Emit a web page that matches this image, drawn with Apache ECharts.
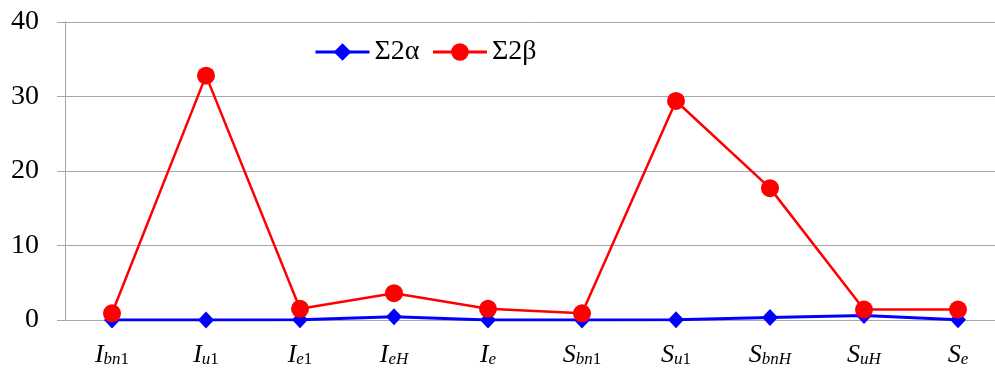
<!DOCTYPE html>
<html>
<head>
<meta charset="utf-8">
<script src="https://cdn.jsdelivr.net/npm/echarts@6/dist/echarts.min.js"></script>
<style>
  html, body { margin: 0; padding: 0; background: #fff; }
  #chart { width: 995px; height: 369px; }
</style>
</head>
<body>
<div id="chart"></div>
<script>
// Category keys: [main letter, italic subscript, upright subscript]
const categories = [
  ['I', 'bn', '1'], ['I', 'u', '1'], ['I', 'e', '1'], ['I', 'eH', ''], ['I', 'e', ''],
  ['S', 'bn', '1'], ['S', 'u', '1'], ['S', 'bnH', ''], ['S', 'uH', ''], ['S', 'e', '']
];
const seriesAlphaName = 'Σ2α';
const seriesBetaName = 'Σ2β';
const alphaValues = [0.0, 0.0, 0.05, 0.45, 0.0, 0.0, 0.05, 0.35, 0.6, 0.05];
const betaValues = [0.9, 32.8, 1.5, 3.6, 1.5, 0.9, 29.4, 17.7, 1.4, 1.4];
const yTicks = [0, 10, 20, 30, 40];

const labelKeys = categories.map(c => c.join('|'));
const serif = '"Liberation Serif", "DejaVu Serif", serif';

const chart = echarts.init(document.getElementById('chart'), null, { renderer: 'canvas' });
chart.setOption({
  animation: false,
  backgroundColor: '#ffffff',
  // plot area runs past the right edge of the canvas
  grid: { left: 65, top: 22, width: 940, height: 298, containLabel: false, outerBoundsMode: 'none' },
  legend: {
    left: 309, top: 33,
    itemWidth: 54, itemHeight: 22, itemGap: 12,
    lineStyle: { width: 3 },
    textStyle: { fontFamily: serif, fontSize: 28, color: '#000' },
    data: [seriesAlphaName, seriesBetaName]
  },
  xAxis: {
    type: 'category',
    data: labelKeys,
    boundaryGap: true,
    axisLine: { lineStyle: { color: '#a6a6a6', width: 1 } },
    axisTick: { show: false },
    axisLabel: {
      margin: 18,
      interval: 0,
      formatter: function (v) {
        const p = v.split('|');
        let s = '{m|' + p[0] + '}{s|' + p[1] + '}';
        if (p[2]) s += '{n|' + p[2] + '}';
        return s;
      },
      rich: {
        m: { fontFamily: serif, fontStyle: 'italic', fontSize: 26, color: '#000', lineHeight: 30, verticalAlign: 'bottom' },
        s: { fontFamily: serif, fontStyle: 'italic', fontSize: 17, color: '#000', lineHeight: 17, verticalAlign: 'bottom' },
        n: { fontFamily: serif, fontSize: 17, color: '#000', lineHeight: 17, verticalAlign: 'bottom' }
      }
    }
  },
  yAxis: {
    type: 'value',
    min: yTicks[0], max: yTicks[yTicks.length - 1], interval: 10,
    axisLine: { show: true, lineStyle: { color: '#a6a6a6', width: 1 } },
    axisTick: { show: true, inside: false, length: 8, lineStyle: { color: '#a6a6a6' } },
    splitLine: { lineStyle: { color: '#a6a6a6', width: 1 } },
    axisLabel: { margin: 26, fontFamily: serif, fontSize: 28, color: '#000' }
  },
  series: [
    {
      name: seriesAlphaName,
      type: 'line',
      data: alphaValues,
      symbol: 'diamond',
      symbolSize: [16, 17],
      lineStyle: { color: '#0000ff', width: 3 },
      itemStyle: { color: '#0000ff' },
      z: 2
    },
    {
      name: seriesBetaName,
      type: 'line',
      data: betaValues,
      symbol: 'circle',
      symbolSize: 18,
      lineStyle: { color: '#ff0000', width: 2.5 },
      itemStyle: { color: '#ff0000' },
      z: 3
    }
  ]
});
</script>
</body>
</html>
